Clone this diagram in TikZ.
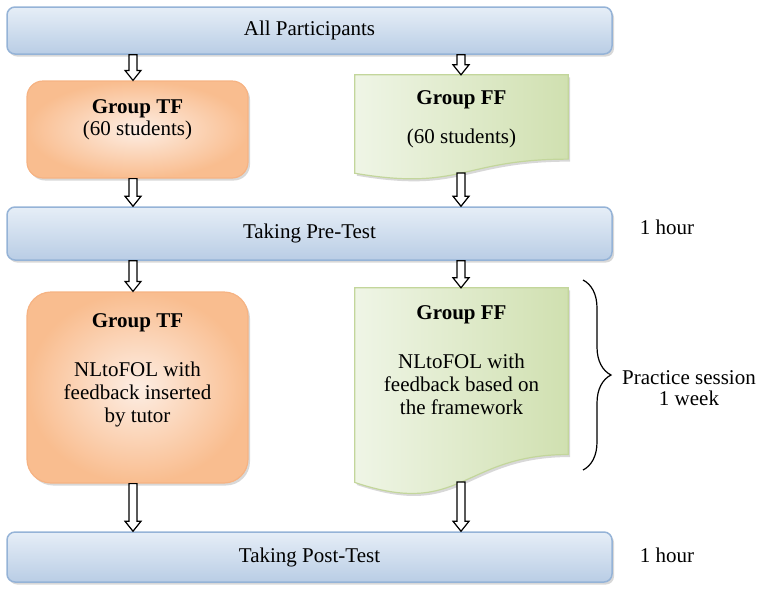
\documentclass[tikz,border=0pt]{standalone}
\usepackage{fontspec}
\setmainfont{Liberation Serif}
\usepackage{xcolor}
\definecolor{stageborder}{HTML}{95B3D7}
\definecolor{stagetop}{HTML}{E6EEF7}
\definecolor{stagebot}{HTML}{B9CDE5}
\definecolor{tfborder}{HTML}{F6B383}
\definecolor{tforange}{HTML}{F9BD8F}
\definecolor{tflight}{HTML}{FDEEE4}
\definecolor{ffborder}{HTML}{C3D69B}
\definecolor{ffgreen}{HTML}{D0E0B0}
\definecolor{fflight}{HTML}{EFF5E6}
\usetikzlibrary{calc, shadows, decorations.pathreplacing}
\tikzset{
    softshadow/.style={
        drop shadow={shadow xshift=2pt, shadow yshift=-2.5pt, fill=black!30}
    },
    stage/.style={
        draw=stageborder, line width=1.5pt,
        rounded corners=8pt,
        top color=stagetop, bottom color=stagebot,
        minimum width=605pt, inner sep=0pt,
        softshadow
    },
    tfbox/.style={
        draw=tfborder, line width=1.2pt,
        inner color=tflight, outer color=tforange,
        minimum width=221pt, inner sep=0pt,
        softshadow
    },
    ffbox/.style={inner sep=0pt, minimum width=213pt},
    ffdoc/.style={
        draw=ffborder, line width=1.2pt,
        left color=fflight, right color=ffgreen,
        softshadow
    },
    txt/.style={align=center},
    hollow/.style={draw=black, line width=1.2pt, fill=white, line join=miter},
    brc/.style={decorate, decoration={brace, amplitude=28pt}, line width=1.2pt},
}
% document shape with wavy bottom, drawn on the anchors of a plain node
\newcommand{\docshape}[1]{%
    \path[ffdoc] (#1.north west) -- (#1.north east)
        -- ($(#1.north east)!0.8!(#1.south east)$)
        .. controls ($(#1.north)!0.8!(#1.south)$) and ($(#1.north)!1.107!(#1.south)$)
        .. ($(#1.north west)!0.934!(#1.south west)$) coordinate[pos=0.5] (#1w)
        -- cycle;}
% hollow block arrow
\newcommand{\hollowarrow}[2]{%
    \draw[hollow] ($(#1)+(-4,0)$) -- ($(#2)+(-4,-10)$) -- ($(#2)+(-8,-10)$)
        -- (#2) -- ($(#2)+(8,-10)$) -- ($(#2)+(4,-10)$) -- ($(#1)+(4,0)$) -- cycle;}
\begin{document}
\begin{tikzpicture}[x=1pt, y=-1pt, font=\fontsize{21}{23}\selectfont]
        \useasboundingbox (0,0) rectangle (759,590);
        \coordinate (colL) at (133,0);
        \coordinate (colR) at (461,0);

        \node[stage, minimum height=47pt] (ap) at (309.5,30.5) {All Participants};
        \node[stage, minimum height=53pt] (pre) at (309.5,233.5) {Taking Pre-Test};
        \node[stage, minimum height=50pt] (post) at (309.5,557) {Taking Post-Test};

        \node[tfbox, minimum height=97pt, rounded corners=16pt] (tf1) at (137.5,129.5) {};
        \node[tfbox, minimum height=191pt, rounded corners=24pt] (tf2) at (137.5,387.5) {};

        \node[ffbox, minimum height=105pt] (ff1) at (461.5,127.5) {};
        \node[ffbox, minimum height=208pt] (ff2) at (461.5,392) {};
        \docshape{ff1}
        \docshape{ff2}

        \node[txt] (tf1txt) at (137.5,120) {\textbf{Group TF}\\[-1pt](60 students)};
        \node[txt] (ff1txt) at (461.5,119) {\textbf{Group FF}\\[16pt](60 students)};
        \node[txt] (tf2txt) at (137.5,370) {\textbf{Group TF}\\[26pt]NLtoFOL with\\feedback inserted\\by tutor};
        \node[txt] (ff2txt) at (461.5,360) {\textbf{Group FF}\\[26pt]NLtoFOL with\\feedback based on\\the framework};

        \foreach \a/\b in {ap.south/tf1.north, tf1.south/pre.north, pre.south/tf2.north, tf2.south/post.north}
            \hollowarrow{\a -| colL}{\b -| colL};
        \foreach \a/\b in {ap.south/ff1.north, ff1w/pre.north, pre.south/ff2.north, ff2w/post.north}
            \hollowarrow{\a -| colR}{\b -| colR};

        \coordinate (brtop) at (583,280);
        \coordinate (brbot) at (583,470);
        \draw[brc] (brtop) -- (brbot);

        \node[txt] (practice) at (689,388) {Practice session\\[-2pt]1 week};
        \node[txt] (hour1) at (667,227) {1 hour};
        \node[txt] (hour2) at (667,555) {1 hour};
    \end{tikzpicture}
\end{document}
